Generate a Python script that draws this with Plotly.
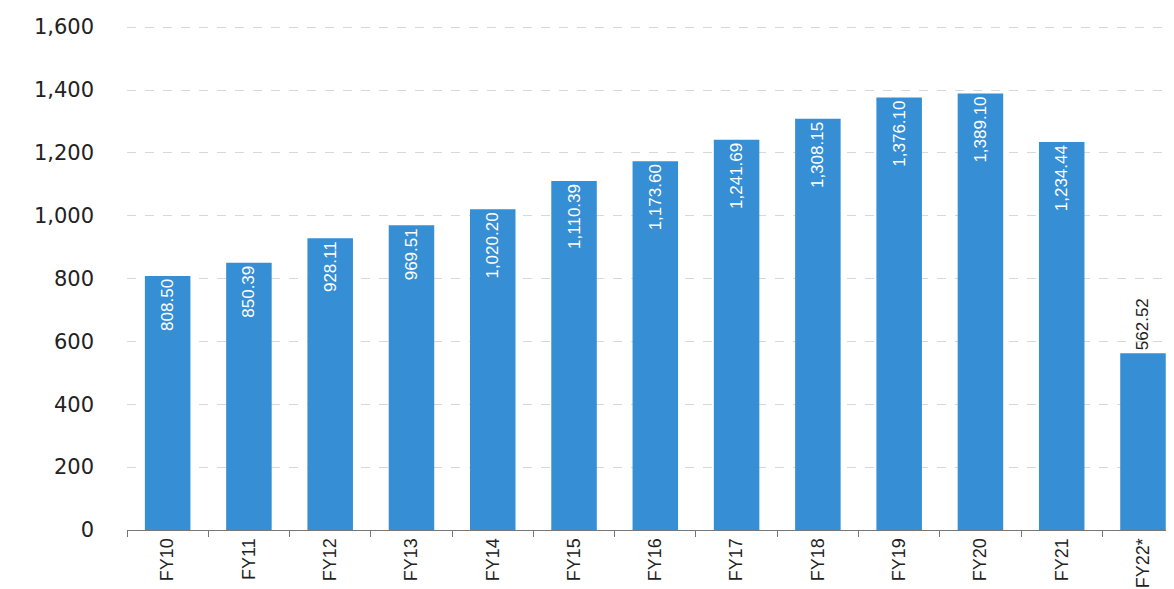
import plotly.graph_objects as go

categories = ["FY10", "FY11", "FY12", "FY13", "FY14", "FY15", "FY16", "FY17", "FY18", "FY19", "FY20", "FY21", "FY22*"]
values = [808.50, 850.39, 928.11, 969.51, 1020.20, 1110.39, 1173.60, 1241.69, 1308.15, 1376.10, 1389.10, 1234.44, 562.52]
labels = [f"{v:,.2f}" for v in values]
positions = ["inside"] * 12 + ["outside"]
text_colors = ["white"] * 12 + ["#222222"]

fig = go.Figure(go.Bar(
    x=categories, y=values, text=labels,
    textposition=positions, textangle=-90,
    insidetextanchor="end", constraintext="none",
    textfont=dict(family="Liberation Sans Narrow, Liberation Sans, Arial Narrow", size=17, color=text_colors),
    marker=dict(color="#368ed4", line=dict(width=0)),
    width=0.56, cliponaxis=False,
))

fig.update_layout(
    width=1174, height=589,
    margin=dict(l=119, r=0, t=16, b=67),
    plot_bgcolor="white", paper_bgcolor="white",
    showlegend=False,
)
fig.update_xaxes(
    type="category", range=[-0.5, 12.48],
    tickangle=-90, tickfont=dict(family="Liberation Sans Narrow, Liberation Sans", size=18, color="#222222"),
    showline=True, linecolor="#777777", linewidth=1,
    ticks="outside", ticklen=6, tickcolor="#777777", tickson="boundaries",
    showgrid=False,
)
fig.update_yaxes(
    range=[0, 1610], tickvals=[0, 200, 400, 600, 800, 1000, 1200, 1400, 1600],
    tickformat=",", tickfont=dict(family="DejaVu Sans", size=21, color="#222222"),
    showgrid=True, gridcolor="#d8d8d8", griddash="dash", gridwidth=1,
    zeroline=False, ticks="", ticklabelstandoff=32,
)

fig.write_html("out.html")
